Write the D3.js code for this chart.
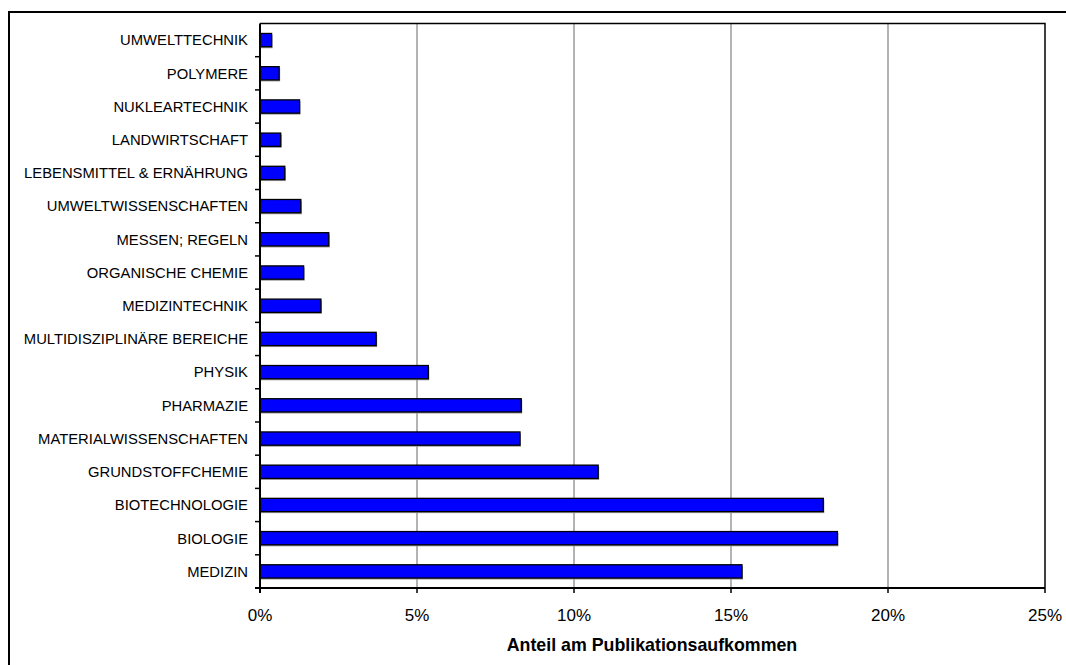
<!DOCTYPE html>
<html>
<head>
<meta charset="utf-8">
<script src="https://cdn.jsdelivr.net/npm/d3@7"></script>
<style>
  html, body { margin: 0; padding: 0; background: #fff; }
  svg { display: block; font-family: "Liberation Sans", Arial, sans-serif; }
</style>
</head>
<body>
<svg id="chart" width="1066" height="665"></svg>
<script>
// Fachgebiete, top to bottom
const categories = [
  "UMWELTTECHNIK",
  "POLYMERE",
  "NUKLEARTECHNIK",
  "LANDWIRTSCHAFT",
  "LEBENSMITTEL & ERNÄHRUNG",
  "UMWELTWISSENSCHAFTEN",
  "MESSEN; REGELN",
  "ORGANISCHE CHEMIE",
  "MEDIZINTECHNIK",
  "MULTIDISZIPLINÄRE BEREICHE",
  "PHYSIK",
  "PHARMAZIE",
  "MATERIALWISSENSCHAFTEN",
  "GRUNDSTOFFCHEMIE",
  "BIOTECHNOLOGIE",
  "BIOLOGIE",
  "MEDIZIN"
];
// Anteil am Publikationsaufkommen in %
const shares = [0.37, 0.61, 1.26, 0.66, 0.79, 1.30, 2.19, 1.39, 1.94, 3.70, 5.36, 8.32, 8.28, 10.77, 17.94, 18.39, 15.35];
const xTicks = [0, 5, 10, 15, 20, 25];
const xTitle = "Anteil am Publikationsaufkommen";

const svg = d3.select("#chart");
const plot = { left: 260, top: 23.5, right: 1045, bottom: 588 };

// outer frame
svg.append("rect")
  .attr("x", 9).attr("y", 12)
  .attr("width", 1070).attr("height", 670)
  .attr("fill", "none").attr("stroke", "#000").attr("stroke-width", 2);

const x = d3.scaleLinear().domain([0, 25]).range([plot.left, plot.right]);
const y = d3.scaleBand().domain(categories).range([plot.top, plot.bottom]).paddingInner(0.6).paddingOuter(0.3);
const yBand = d3.scaleBand().domain(categories).range([plot.top, plot.bottom]);

// vertical gridlines
svg.append("g").selectAll("line")
  .data(xTicks.filter(t => t > 0 && t < 25))
  .join("line")
  .attr("x1", d => x(d)).attr("x2", d => x(d))
  .attr("y1", plot.top).attr("y2", plot.bottom)
  .attr("stroke", "#808080").attr("stroke-width", 1.2);

// top and right border of the plot area
svg.append("path")
  .attr("d", `M${plot.left},${plot.top}H${plot.right}V${plot.bottom}`)
  .attr("fill", "none").attr("stroke", "#000").attr("stroke-width", 1.5);

// bars with a soft grey drop shadow
const bars = svg.append("g");
bars.selectAll("rect.shadow")
  .data(categories)
  .join("rect")
  .attr("class", "shadow")
  .attr("x", plot.left + 1)
  .attr("y", (d) => y(d) + 1.5)
  .attr("width", (d, i) => x(shares[i]) - plot.left)
  .attr("height", y.bandwidth())
  .attr("fill", "#9a9a9a");
bars.selectAll("rect.bar")
  .data(categories)
  .join("rect")
  .attr("class", "bar")
  .attr("x", plot.left)
  .attr("y", d => y(d))
  .attr("width", (d, i) => x(shares[i]) - plot.left)
  .attr("height", y.bandwidth())
  .attr("fill", "#0000ff")
  .attr("stroke", "#000")
  .attr("stroke-width", 1.3);

// y axis: line, ticks between categories, labels
const yAxis = svg.append("g");
yAxis.append("line")
  .attr("x1", plot.left).attr("x2", plot.left)
  .attr("y1", plot.top).attr("y2", plot.bottom + 5)
  .attr("stroke", "#000").attr("stroke-width", 2);
yAxis.selectAll("line.tick")
  .data(categories.slice(1))
  .join("line")
  .attr("class", "tick")
  .attr("x1", plot.left - 5).attr("x2", plot.left)
  .attr("y1", d => yBand(d)).attr("y2", d => yBand(d))
  .attr("stroke", "#000").attr("stroke-width", 1.5);
yAxis.append("line")
  .attr("x1", plot.left - 5).attr("x2", plot.left)
  .attr("y1", plot.bottom).attr("y2", plot.bottom)
  .attr("stroke", "#000").attr("stroke-width", 1.5);
yAxis.selectAll("text")
  .data(categories)
  .join("text")
  .attr("x", plot.left - 12)
  .attr("y", d => yBand(d) + yBand.bandwidth() / 2)
  .attr("dy", "0.36em")
  .attr("text-anchor", "end")
  .attr("font-size", "14.8px")
  .attr("fill", "#000")
  .text(d => d);

// x axis
const xAxis = svg.append("g");
xAxis.append("line")
  .attr("x1", plot.left - 5).attr("x2", plot.right)
  .attr("y1", plot.bottom).attr("y2", plot.bottom)
  .attr("stroke", "#000").attr("stroke-width", 2);
xAxis.selectAll("line.tick")
  .data(xTicks)
  .join("line")
  .attr("class", "tick")
  .attr("x1", d => x(d)).attr("x2", d => x(d))
  .attr("y1", plot.bottom).attr("y2", plot.bottom + 5)
  .attr("stroke", "#000").attr("stroke-width", 1.5);
xAxis.selectAll("text")
  .data(xTicks)
  .join("text")
  .attr("x", d => x(d))
  .attr("y", 621)
  .attr("text-anchor", "middle")
  .attr("font-size", "17px")
  .attr("fill", "#000")
  .text(d => d + "%");

svg.append("text")
  .attr("x", 652)
  .attr("y", 651)
  .attr("text-anchor", "middle")
  .attr("font-size", "17.8px")
  .attr("font-weight", "bold")
  .attr("fill", "#000")
  .text(xTitle);
</script>
</body>
</html>
